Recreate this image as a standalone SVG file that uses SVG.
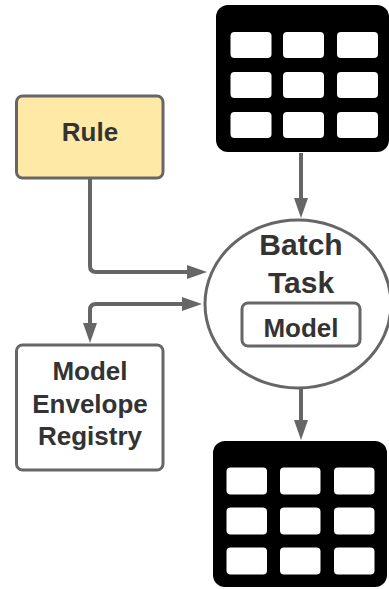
<svg xmlns="http://www.w3.org/2000/svg" width="389" height="589" viewBox="0 0 389 589">
<style>
.ln{fill:none;stroke:#666;stroke-width:4}
.box{stroke:#666;stroke-width:3}
.t{font-family:"Liberation Sans",Arial,sans-serif;font-weight:bold;fill:#333;text-anchor:middle}
.cell{fill:#fff}
</style>
<defs>
<marker id="ah" viewBox="0 0 20 14" refX="2" refY="7" markerWidth="20" markerHeight="14" markerUnits="userSpaceOnUse" orient="auto-start-reverse">
<path d="M0,0 L20,7 L0,14 z" fill="#666"/>
</marker>
</defs>
<g id="connectors">
<path class="ln" d="M301,153 V200" marker-end="url(#ah)"/>
<path class="ln" d="M90,178 V266 Q90,272 96,272 H189" marker-end="url(#ah)"/>
<path class="ln" d="M90,325 V310 Q90,304 96,304 H184" marker-start="url(#ah)" marker-end="url(#ah)"/>
<path class="ln" d="M301,388 V422" marker-end="url(#ah)"/>
</g>
<g id="table-top">
<rect x="216" y="5" width="173" height="147" rx="12" fill="#000"/>
<rect class="cell" x="230.5" y="32" width="41" height="26" rx="4"/>
<rect class="cell" x="283" y="32" width="41" height="26" rx="4"/>
<rect class="cell" x="337" y="32" width="41" height="26" rx="4"/>
<rect class="cell" x="230.5" y="72" width="41" height="26" rx="4"/>
<rect class="cell" x="283" y="72" width="41" height="26" rx="4"/>
<rect class="cell" x="337" y="72" width="41" height="26" rx="4"/>
<rect class="cell" x="230.5" y="112" width="41" height="26" rx="4"/>
<rect class="cell" x="283" y="112" width="41" height="26" rx="4"/>
<rect class="cell" x="337" y="112" width="41" height="26" rx="4"/>
</g>
<g id="rule">
<rect class="box" x="16.5" y="96" width="146.5" height="82" rx="6" fill="#FFE9A6"/>
<text class="t" x="90" y="141" font-size="26">Rule</text>
</g>
<g id="batch-task">
<ellipse class="box" cx="298" cy="304" rx="93" ry="84" fill="#fff"/>
<text class="t" x="301" y="255" font-size="30">Batch</text>
<text class="t" x="301" y="293" font-size="30">Task</text>
<rect class="box" x="242" y="303" width="118" height="43" rx="6" fill="#fff"/>
<text class="t" x="301" y="337" font-size="26">Model</text>
</g>
<g id="registry">
<rect class="box" x="16.5" y="345" width="146.5" height="125" rx="6" fill="#fff"/>
<text class="t" x="90" y="380" font-size="26">Model</text>
<text class="t" x="90" y="413" font-size="26">Envelope</text>
<text class="t" x="90" y="445" font-size="26">Registry</text>
</g>
<g id="table-bottom">
<rect x="213" y="441" width="174" height="146" rx="12" fill="#000"/>
<rect class="cell" x="226.5" y="467.5" width="40.5" height="27" rx="4"/>
<rect class="cell" x="280" y="467.5" width="40.5" height="27" rx="4"/>
<rect class="cell" x="334" y="467.5" width="40.5" height="27" rx="4"/>
<rect class="cell" x="226.5" y="507.5" width="40.5" height="27" rx="4"/>
<rect class="cell" x="280" y="507.5" width="40.5" height="27" rx="4"/>
<rect class="cell" x="334" y="507.5" width="40.5" height="27" rx="4"/>
<rect class="cell" x="226.5" y="547.5" width="40.5" height="27" rx="4"/>
<rect class="cell" x="280" y="547.5" width="40.5" height="27" rx="4"/>
<rect class="cell" x="334" y="547.5" width="40.5" height="27" rx="4"/>
</g>
</svg>
